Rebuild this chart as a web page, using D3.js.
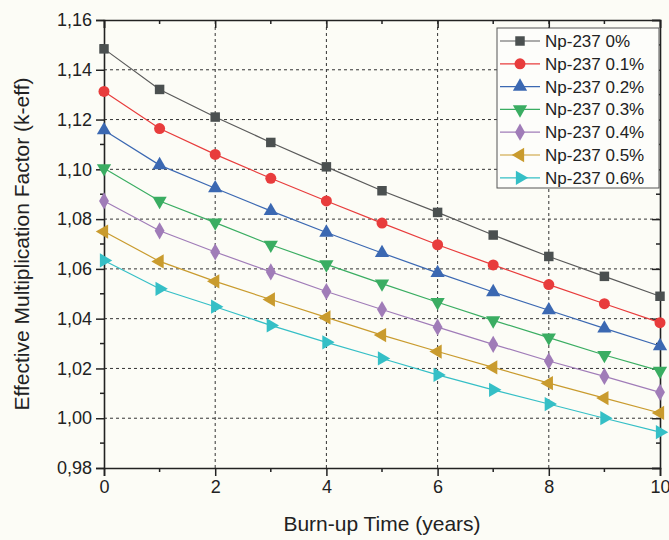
<!DOCTYPE html>
<html>
<head>
<meta charset="utf-8">
<script src="https://cdn.jsdelivr.net/npm/d3@7"></script>
<style>
  body { margin: 0; background: #fcfcf6; }
  svg { font-family: "Liberation Sans", Arial, sans-serif; }
</style>
</head>
<body>
<div id="chart"></div>
<script>
/* DATA */
const years = [0, 1, 2, 3, 4, 5, 6, 7, 8, 9, 10];
const seriesNames = ["Np-237 0%", "Np-237 0.1%", "Np-237 0.2%", "Np-237 0.3%", "Np-237 0.4%", "Np-237 0.5%", "Np-237 0.6%"];
const np0  = [1.1484, 1.1321, 1.1210, 1.1108, 1.1010, 1.0914, 1.0827, 1.0736, 1.0650, 1.0570, 1.0490];
const np01 = [1.1313, 1.1164, 1.1060, 1.0964, 1.0873, 1.0784, 1.0697, 1.0616, 1.0537, 1.0460, 1.0384];
const np02 = [1.1157, 1.1017, 1.0924, 1.0833, 1.0746, 1.0664, 1.0584, 1.0507, 1.0434, 1.0361, 1.0290];
const np03 = [1.1004, 1.0873, 1.0786, 1.0697, 1.0618, 1.0541, 1.0466, 1.0393, 1.0324, 1.0254, 1.0190];
const np04 = [1.0873, 1.0753, 1.0668, 1.0588, 1.0509, 1.0437, 1.0366, 1.0297, 1.0230, 1.0168, 1.0104];
const np05 = [1.0750, 1.0630, 1.0550, 1.0477, 1.0405, 1.0334, 1.0268, 1.0204, 1.0141, 1.0081, 1.0021];
const np06 = [1.0634, 1.0520, 1.0448, 1.0373, 1.0305, 1.0240, 1.0174, 1.0114, 1.0057, 1.0000, 0.9944];
const xTicks = [0, 2, 4, 6, 8, 10];
const yTicks = [0.98, 1.00, 1.02, 1.04, 1.06, 1.08, 1.10, 1.12, 1.14, 1.16];

const allValues = [np0, np01, np02, np03, np04, np05, np06];
const colors = ["#4b5050", "#e83c3c", "#3b68b2", "#3aad62", "#a07cb8", "#c99b2e", "#35bfc6"];
const lineColors = ["#5a5a5a", "#e83c3c", "#3b68b2", "#3aad62", "#a07cb8", "#c99b2e", "#35bfc6"];
const shapes = ["square", "circle", "up", "down", "diamond", "left", "right"];

const series = seriesNames.map((name, i) => ({
  name, color: colors[i], lineColor: lineColors[i], shape: shapes[i],
  values: years.map((x, j) => ({x, y: allValues[i][j]}))
}));

/* CONSTANTS */
const width = 669, height = 540;
const margin = {top: 20, right: 9, bottom: 72, left: 104};

const svg = d3.select("#chart").append("svg")
  .attr("width", width).attr("height", height);

const xScale = d3.scaleLinear().domain([0, 10]).range([margin.left, width - margin.right]);
const yScale = d3.scaleLinear().domain([0.98, 1.16]).range([height - margin.bottom, margin.top]);

const x0 = xScale.range()[0], x1 = xScale.range()[1];
const y0 = yScale.range()[0], y1 = yScale.range()[1];

const locale = d3.formatLocale({decimal: ",", thousands: ".", grouping: [3], currency: ["", ""]});
const fmt = locale.format(".2f");

/* GRID */
svg.append("g").selectAll("line")
  .data(xTicks.filter(d => d > 0 && d < 10))
  .join("line")
    .attr("x1", d => xScale(d)).attr("x2", d => xScale(d))
    .attr("y1", y0).attr("y2", y1)
    .attr("stroke", "#333").attr("stroke-width", 1).attr("stroke-dasharray", "3,3");

svg.append("g").selectAll("line")
  .data(yTicks.filter(d => d > 0.985 && d < 1.155))
  .join("line")
    .attr("y1", d => yScale(d)).attr("y2", d => yScale(d))
    .attr("x1", x0).attr("x2", x1)
    .attr("stroke", "#333").attr("stroke-width", 1).attr("stroke-dasharray", "3,3");

/* AXES */
const xMinor = d3.range(1, 10, 2);
const yMinor = d3.range(0, 9).map(i => 0.99 + i * 0.02);

const bottomAxis = svg.append("g")
  .attr("transform", `translate(0,${y0})`)
  .call(d3.axisBottom(xScale).tickValues(xTicks).tickSize(8).tickPadding(4).tickFormat(d3.format("d")));
bottomAxis.append("g").selectAll("line").data(xMinor).join("line")
  .attr("x1", d => xScale(d)).attr("x2", d => xScale(d)).attr("y1", 0).attr("y2", 4)
  .attr("stroke", "#222").attr("stroke-width", 1.5);

const leftAxis = svg.append("g")
  .attr("transform", `translate(${x0},0)`)
  .call(d3.axisLeft(yScale).tickValues(yTicks).tickSize(8).tickPadding(4).tickFormat(fmt));
leftAxis.append("g").selectAll("line").data(yMinor).join("line")
  .attr("y1", d => yScale(d)).attr("y2", d => yScale(d)).attr("x1", 0).attr("x2", -4)
  .attr("stroke", "#222").attr("stroke-width", 1.5);

const topAxis = svg.append("g")
  .attr("transform", `translate(0,${y1})`)
  .call(d3.axisBottom(xScale).tickValues(xTicks).tickSize(8).tickFormat(""));
topAxis.append("g").selectAll("line").data(xMinor).join("line")
  .attr("x1", d => xScale(d)).attr("x2", d => xScale(d)).attr("y1", 0).attr("y2", 4)
  .attr("stroke", "#222").attr("stroke-width", 1.5);

const rightAxis = svg.append("g")
  .attr("transform", `translate(${x1},0)`)
  .call(d3.axisLeft(yScale).tickValues(yTicks).tickSize(8).tickFormat(""));
rightAxis.append("g").selectAll("line").data(yMinor).join("line")
  .attr("y1", d => yScale(d)).attr("y2", d => yScale(d)).attr("x1", 0).attr("x2", -4)
  .attr("stroke", "#222").attr("stroke-width", 1.5);

svg.selectAll(".domain").attr("stroke", "#222").attr("stroke-width", 1.6);
svg.selectAll(".tick line").attr("stroke", "#222").attr("stroke-width", 1.5);
svg.selectAll(".tick text").attr("fill", "#222").style("font-size", "18px")
  .style("font-family", "'Liberation Sans', Arial, sans-serif");

/* MARKERS */
const symbolFor = {
  square: d3.symbol(d3.symbolSquare, 90),
  circle: d3.symbol(d3.symbolCircle, 95),
  up: d3.symbol(d3.symbolTriangle, 88),
  down: d3.symbol(d3.symbolTriangle, 88),
  diamond: d3.symbol(d3.symbolDiamond, 85),
  left: d3.symbol(d3.symbolTriangle, 88),
  right: d3.symbol(d3.symbolTriangle, 88)
};
const rotateFor = {square: 0, circle: 0, up: 0, down: 180, diamond: 0, left: -90, right: 90};

const line = d3.line().x(d => xScale(d.x)).y(d => yScale(d.y));

const plot = svg.append("g");
series.forEach(s => {
  plot.append("path")
    .datum(s.values)
    .attr("d", line)
    .attr("fill", "none")
    .attr("stroke", s.lineColor)
    .attr("stroke-width", 1.2);
  plot.append("g").selectAll("path")
    .data(s.values)
    .join("path")
      .attr("d", symbolFor[s.shape])
      .attr("transform", d => `translate(${xScale(d.x)},${yScale(d.y)}) rotate(${rotateFor[s.shape]})`)
      .attr("fill", s.color);
});

/* LEGEND */
const legend = svg.append("g").attr("transform", "translate(497,28)");
legend.append("rect")
  .attr("width", 162).attr("height", 160)
  .attr("fill", "#fdfdfa").attr("stroke", "#555").attr("stroke-width", 1);
const rowH = 22.8;
series.forEach((s, i) => {
  const row = legend.append("g").attr("transform", `translate(0,${13 + i * rowH})`);
  row.append("line").attr("x1", 3).attr("x2", 43).attr("y1", 0).attr("y2", 0)
    .attr("stroke", s.lineColor).attr("stroke-width", 1.2);
  row.append("path").attr("d", symbolFor[s.shape])
    .attr("transform", `translate(23,0) rotate(${rotateFor[s.shape]})`)
    .attr("fill", s.color);
  row.append("text").attr("x", 48).attr("y", 6)
    .style("font-size", "17px").attr("fill", "#222")
    .text(s.name);
});

/* AXIS TITLES */
svg.append("text")
  .attr("x", (x0 + x1) / 2).attr("y", 531)
  .attr("text-anchor", "middle")
  .style("font-size", "21px").attr("fill", "#222")
  .text("Burn-up Time (years)");

svg.append("text")
  .attr("transform", `translate(29,${(y0 + y1) / 2}) rotate(-90)`)
  .attr("text-anchor", "middle")
  .style("font-size", "21px").attr("fill", "#222")
  .text("Effective Multiplication Factor (k-eff)");
</script>
</body>
</html>
